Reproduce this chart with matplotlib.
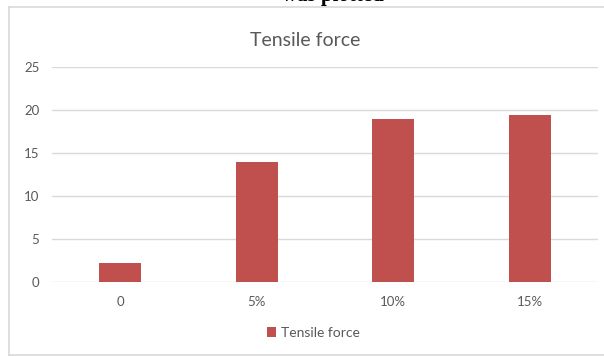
import matplotlib
matplotlib.use("Agg")
import matplotlib.pyplot as plt
from matplotlib.lines import Line2D
from matplotlib.patches import Patch

categories = ["0", "5%", "10%", "15%"]
tensile_force = [2.25, 14.0, 19.0, 19.4]
y_ticks = [0, 5, 10, 15, 20, 25]

W, H = 604, 356
fig = plt.figure(figsize=(W / 100, H / 100), dpi=100)
fig.patch.set_facecolor("white")

# caption fragment from the surrounding page
fig.text(282 / W, 1 - 0.5 / H, "was plotted", family="Liberation Serif",
         fontweight="bold", fontsize=15, ha="left", va="baseline", color="black")

# chart border: left, top and bottom edges only
left, top, bottom = 9 / W, 1 - 7 / H, 1 - 355 / H
for xs, ys in [([left, left], [bottom, top]),
               ([left, 1.0], [top, top]),
               ([left, 1.0], [bottom, bottom])]:
    fig.add_artist(Line2D(xs, ys, transform=fig.transFigure,
                          color="#d9d9d9", linewidth=1.2))

ax = fig.add_axes([52 / W, 1 - 282 / H, (598 - 52) / W, (282 - 67) / H])
x = range(len(categories))
ax.bar(x, tensile_force, width=0.31, color="#c0504d", zorder=3,
       label="Tensile force")

ax.set_xlim(-0.5, len(categories) - 0.5)
ax.set_ylim(0, 25)
ax.set_yticks(y_ticks)
ax.set_xticks(list(x))
ax.set_xticklabels(categories)
for s in ax.spines.values():
    s.set_visible(False)
ax.grid(axis="y", color="#d9d9d9", linewidth=1, zorder=0)
ax.set_axisbelow(True)
ax.tick_params(axis="both", length=0, colors="#595959", labelsize=9.5)
ax.tick_params(axis="y", pad=9)
ax.tick_params(axis="x", pad=10)
for lab in ax.get_xticklabels() + ax.get_yticklabels():
    lab.set_family("Lato")

fig.text(305 / W, 1 - 40 / H, "Tensile force", ha="center", va="center",
         family="Lato", fontsize=14, color="#595959")

handle = Patch(facecolor="#c0504d", edgecolor="none")
fig.legend([handle], ["Tensile force"], loc="center", bbox_to_anchor=(313 / W, 1 - 333 / H),
           frameon=False, prop={"family": "Lato", "size": 10}, labelcolor="#595959",
           handlelength=0.7, handleheight=0.7, handletextpad=0.3)

fig.savefig("out.png", dpi=100, facecolor="white")
